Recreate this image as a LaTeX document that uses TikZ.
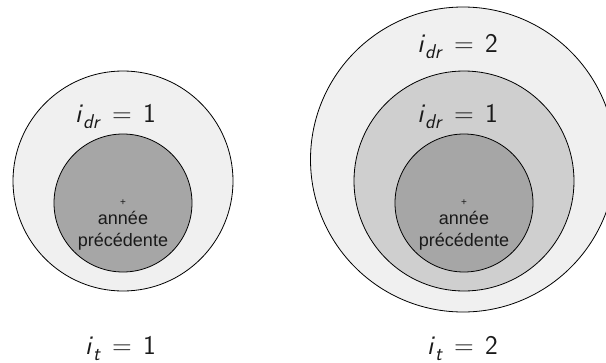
\documentclass[tikz,border=0pt]{standalone}
\usepackage{fontspec}
\newfontfamily\arialf{Liberation Sans}
\definecolor{ringA}{HTML}{F0F0F0}
\definecolor{ringB}{HTML}{CFCFCF}
\definecolor{ringC}{HTML}{A6A6A6}
\definecolor{ink}{HTML}{1A1A1A}
\newcommand{\eqlbl}[2]{\llap{\textsl{i}\raisebox{-0.25em}{\fontsize{20}{20}\selectfont\textsl{#1}}\hspace{0.42em}}=\rlap{\hspace{0.42em}#2}}
\tikzset{
  ring/.style={circle, draw=black, line width=0.8pt, inner sep=0pt, minimum size=#1},
  lbl/.style={anchor=base, inner sep=0pt, text=ink, font=\sffamily\fontsize{27}{30}\selectfont},
  yeartext/.style={align=center, inner sep=0pt, text=ink, font=\arialf\fontsize{18}{22}\selectfont},
  plusmark/.style={inner sep=0pt, text=ink, font=\arialf\fontsize{10}{10}\selectfont}
}
\begin{document}
\begin{tikzpicture}[x=1pt,y=-1pt]
\useasboundingbox (0,0) rectangle (606,362);
% left group
\node[ring=220pt, fill=ringA] (L1) at (123,181) {};
\node[ring=138pt, fill=ringC] (L0) at (123,203) {};
\node[plusmark] (Lp) at (123,203) {+};
\node[yeartext] (Lt) at (123,231) {année\\précédente};
\node[lbl] (Ld) at (122,122) {\eqlbl{dr}{1}};
\node[lbl] (Lit) at (122,354) {\eqlbl{t}{1}};
% right group
\node[ring=305pt, fill=ringA] (R2) at (463,159.5) {};
\node[ring=220pt, fill=ringB] (R1) at (464,181) {};
\node[ring=138pt, fill=ringC] (R0) at (464,203) {};
\node[plusmark] (Rp) at (464,203) {+};
\node[yeartext] (Rt) at (464,231) {année\\précédente};
\node[lbl] (Rd2) at (464,52) {\eqlbl{dr}{2}};
\node[lbl] (Rd1) at (464,122) {\eqlbl{dr}{1}};
\node[lbl] (Rit) at (464,354) {\eqlbl{t}{2}};
\end{tikzpicture}
\end{document}
